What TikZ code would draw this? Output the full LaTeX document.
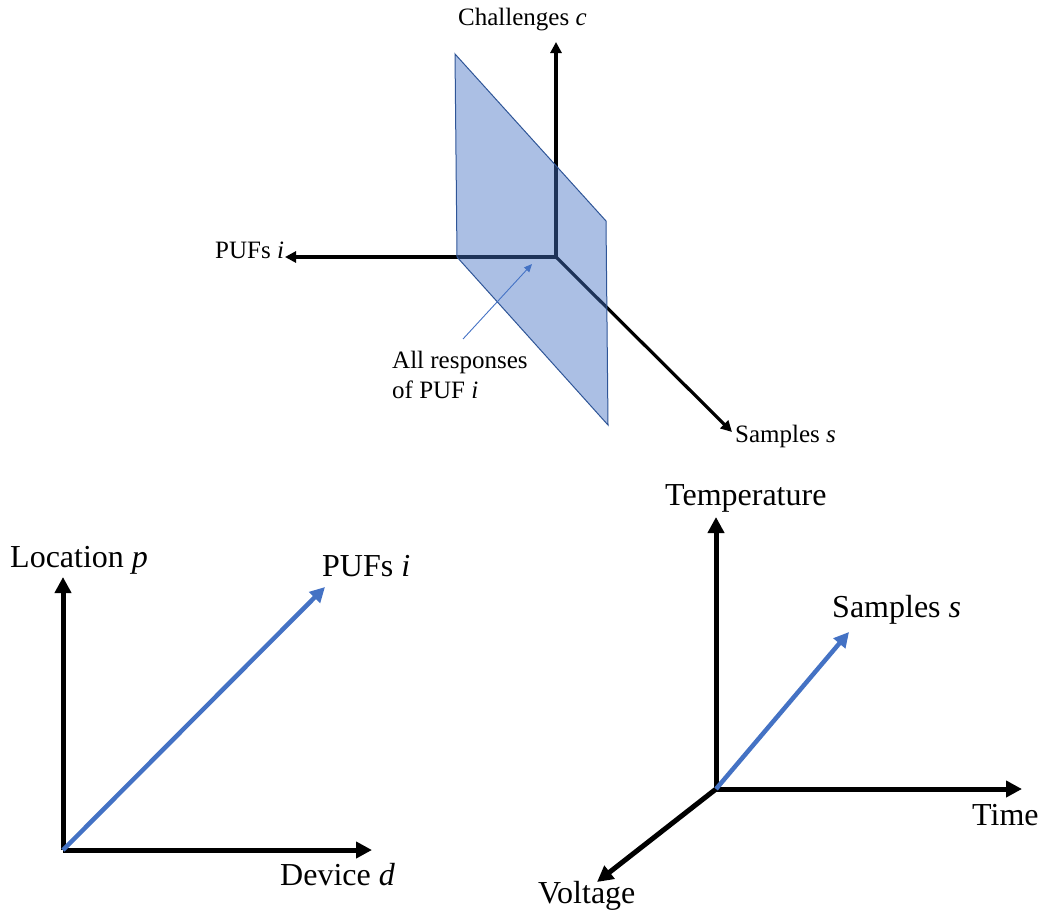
\documentclass[tikz,border=0pt]{standalone}
\usepackage{fontspec}
\setmainfont{Liberation Serif}
\usetikzlibrary{arrows.meta}
\definecolor{axisblue}{HTML}{4472C4}
\definecolor{planeedge}{HTML}{2F5597}
\begin{document}
\begin{tikzpicture}[x=1pt,y=-1pt,
  smallaxis/.style={line width=3.2pt,-{Triangle[length=11pt,width=11pt]}},
  bigaxis/.style={line width=5pt,-{Triangle[length=16pt,width=16pt]}},
  bluevec/.style={bigaxis,line width=4.5pt,draw=axisblue,-{Triangle[length=15pt,width=15pt]}},
  pointer/.style={line width=0.9pt,draw=axisblue,-{Triangle[length=8pt,width=7pt]}},
  plane/.style={fill=axisblue,fill opacity=0.45,draw=planeedge,line width=1pt},
  smalllabel/.style={inner sep=0pt,anchor=base west,font=\fontsize{25}{30}\selectfont},
  biglabel/.style={inner sep=0pt,anchor=base west,font=\fontsize{32}{38}\selectfont}]
\useasboundingbox (0,0) rectangle (1048,913);

% ---- upper 3-D view: PUFs, challenges, samples ----
\coordinate (o1) at (556,257);
\coordinate (c1) at (556,42);
\coordinate (i1) at (285,257);
\coordinate (s1) at (732,432);
\draw[smallaxis] (o1) -- (c1);
\draw[smallaxis] (o1) -- (i1);
\draw[smallaxis] (o1) -- (s1);

% slice holding every response of one PUF
\coordinate (pa) at (455,54);
\coordinate (pb) at (606,221);
\coordinate (pc) at (608,425);
\coordinate (pd) at (457,257);
\filldraw[plane] (pa) -- (pb) -- (pc) -- (pd) -- cycle;

\coordinate (ptail) at (463,339);
\coordinate (phead) at (532,264);
\draw[pointer] (ptail) -- (phead);

\node[smalllabel] (lc) at (458,25) {Challenges \textit{c}};
\node[smalllabel] (li) at (215,258) {PUFs \textit{i}};
\node[smalllabel] (ls) at (735,442) {Samples \textit{s}};
\node[smalllabel] (lr1) at (392,368) {All responses};
\node[smalllabel] (lr2) at (392,398) {of PUF \textit{i}};

% ---- lower left: devices and locations ----
\coordinate (o2) at (63,850);
\coordinate (p2) at (63,577);
\coordinate (d2) at (372,850);
\coordinate (i2) at (325,587);
\draw[bigaxis] (o2) -- (p2);
\draw[bigaxis] (o2) -- (d2);
\draw[bluevec] (o2) -- (i2);

\node[biglabel] (lp) at (10,567) {Location \textit{p}};
\node[biglabel] (li2) at (322,576) {PUFs \textit{i}};
\node[biglabel] (ld) at (280,885) {Device \textit{d}};

% ---- lower right: operating conditions ----
\coordinate (o3) at (716,789);
\coordinate (t3) at (716,517);
\coordinate (ti3) at (1022,789);
\coordinate (v3) at (597,882);
\coordinate (s3) at (849,632);
\draw[bigaxis] (o3) -- (t3);
\draw[bigaxis] (o3) -- (ti3);
\draw[bigaxis] (o3) -- (v3);
\draw[bluevec] (o3) -- (s3);

\node[biglabel] (lt) at (665,505) {Temperature};
\node[biglabel] (ls3) at (832,617) {Samples \textit{s}};
\node[biglabel] (ltime) at (972,825) {Time};
\node[biglabel] (lv) at (538,903) {Voltage};
\end{tikzpicture}
\end{document}
